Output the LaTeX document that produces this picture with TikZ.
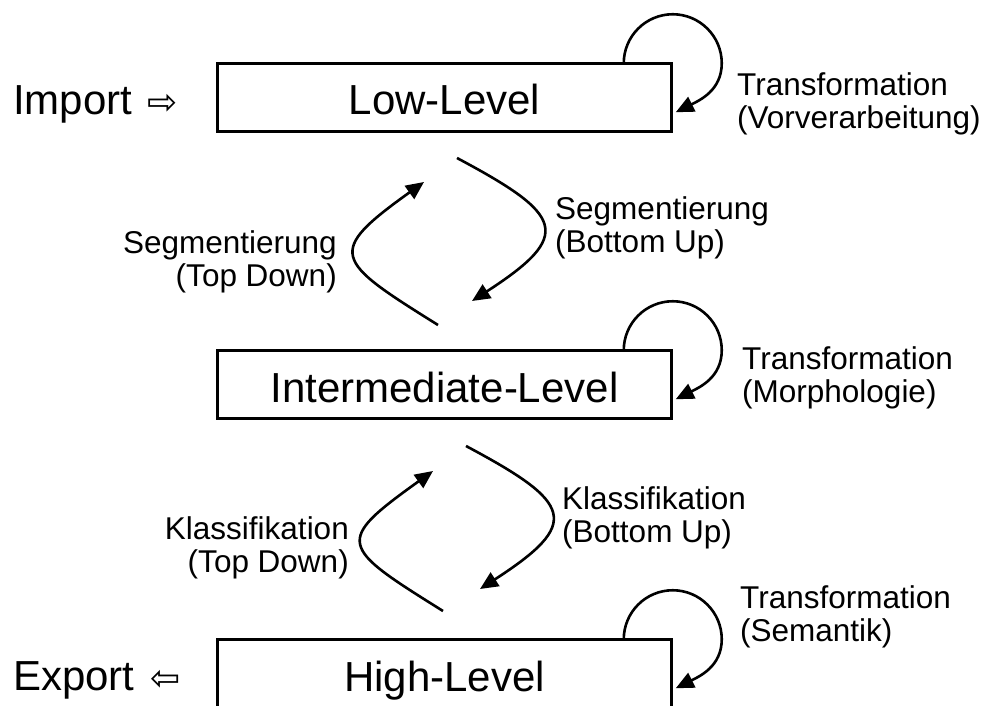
\documentclass[tikz,border=0pt]{standalone}
\usepackage{fontspec}
\setmainfont{Liberation Sans}
\newfontfamily\symfont{DejaVu Sans}
\usetikzlibrary{arrows.meta,calc}
\begin{document}
\begin{tikzpicture}[x=1pt,y=-1pt,
  lvl/.style={draw,line width=2.6pt,minimum width=454.5pt,minimum height=68.5pt,inner sep=0pt,outer sep=0pt,text height=35pt,text depth=0pt,font=\fontsize{42}{50}\selectfont},
  lbl/.style={inner sep=0pt,font=\fontsize{31.5}{33}\selectfont},
  big/.style={inner sep=0pt,font=\fontsize{42}{50}\selectfont},
  flow/.style={line width=2.6pt,-{Triangle[length=18pt,width=16pt]}}]
\useasboundingbox (0,0) rectangle (982,706);
% level boxes
\node[lvl] (low) at (444.5,97.5) {Low-Level};
\node[lvl] (mid) at (444.5,384.5) {Intermediate-Level};
\node[lvl] (high) at (444.5,673.5) {High-Level};
% import / export
\node[big,anchor=base west] (imp) at (13,115) {Import \hspace{4pt}{\symfont\fontsize{36}{40}\selectfont ⇨}};
\node[big,anchor=base west] (exp) at (13,690) {Export \hspace{4pt}{\symfont\fontsize{36}{40}\selectfont ⇦}};
% self loops
\draw[flow] ($(low.north east)+(-48,0)$)
  .. controls +(0,-27) and +(-27,0) .. ++(49,-49)
  .. controls +(27,0) and +(0,-27) .. ++(49,49)
  .. controls +(0,27) and +(24,-12) .. ++(-46,49);
\draw[flow] ($(mid.north east)+(-48,0)$)
  .. controls +(0,-27) and +(-27,0) .. ++(49,-49)
  .. controls +(27,0) and +(0,-27) .. ++(49,49)
  .. controls +(0,27) and +(24,-12) .. ++(-46,49);
\draw[flow] ($(high.north east)+(-48,0)$)
  .. controls +(0,-27) and +(-27,0) .. ++(49,-49)
  .. controls +(27,0) and +(0,-27) .. ++(49,49)
  .. controls +(0,27) and +(24,-12) .. ++(-46,49);
% S-curves between low and mid
\coordinate (a0) at (438,325);
\coordinate (a1) at (424,182);
\coordinate (b0) at (457,158);
\coordinate (b1) at (472,301);
\draw[flow] (a0) .. controls (334,260) and (325,253) .. (a1);
\draw[flow] (b0) .. controls (564,215) and (574,235) .. (b1);
% S-curves between mid and high
\coordinate (c0) at (443,611);
\coordinate (c1) at (433,471);
\coordinate (d0) at (466,446);
\coordinate (d1) at (480,589);
\draw[flow] (c0) .. controls (339,546) and (334,542) .. (c1);
\draw[flow] (d0) .. controls (573,503) and (582,523) .. (d1);
% labels
\node[lbl,anchor=north west,align=left] (t1) at (737,72) {Transformation\\(Vorverarbeitung)};
\node[lbl,anchor=north west,align=left] (t2) at (742,346) {Transformation\\(Morphologie)};
\node[lbl,anchor=north west,align=left] (t3) at (740,585) {Transformation\\(Semantik)};
\node[lbl,anchor=north west,align=left] (s1) at (555,196) {Segmentierung\\(Bottom Up)};
\node[lbl,anchor=north east,align=right] (s2) at (337,230) {Segmentierung\\(Top Down)};
\node[lbl,anchor=north west,align=left] (k1) at (562,486) {Klassifikation\\(Bottom Up)};
\node[lbl,anchor=north east,align=right] (k2) at (349,516) {Klassifikation\\(Top Down)};
\end{tikzpicture}
\end{document}
